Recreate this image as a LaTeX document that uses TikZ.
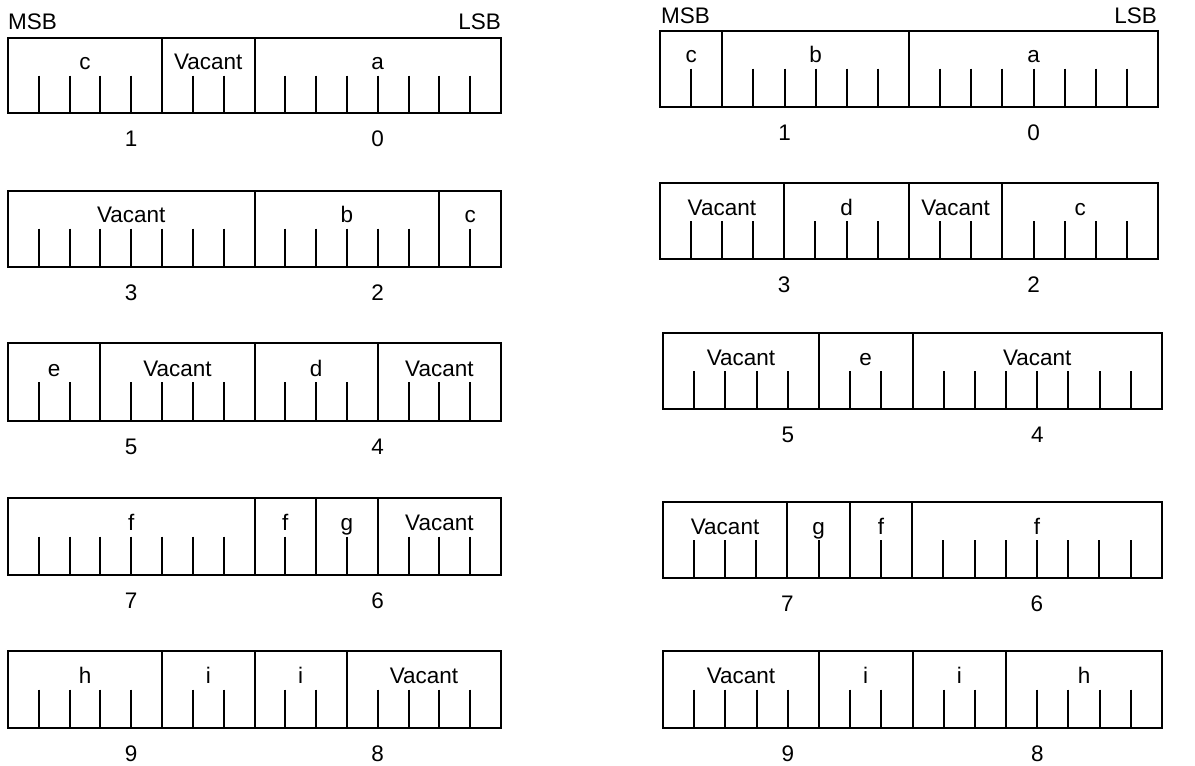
\documentclass[tikz,border=0pt]{standalone}
\usepackage{fontspec}
\setmainfont{Liberation Sans}
\newcount\bitposcnt
\tikzset{
  seg/.style={draw, line width=2pt, inner sep=0pt, outer sep=0pt, rectangle},
  tickline/.style={line width=2pt},
  fieldlab/.style={font=\fontsize{22.5}{22.5}\selectfont, inner sep=0pt, anchor=base},
  bytelab/.style={font=\fontsize{22.5}{22.5}\selectfont, inner sep=0pt, anchor=base},
  endlab/.style={font=\fontsize{22.5}{22.5}\selectfont, inner sep=0pt},
}
\newcommand\bitrow[8]{%
  \pgfmathsetmacro\bw{(#3-#2)/16}%
  \pgfmathsetmacro\ymid{(#4+#5)/2}%
  \pgfmathsetmacro\ytxt{\ymid-6}%
  \pgfmathsetmacro\hgt{#5-#4}%
  \global\bitposcnt=0
  \foreach \n/\lab [count=\k] in {#6}{%
    \pgfmathsetmacro\xa{#2+\the\bitposcnt*\bw}%
    \pgfmathsetmacro\sw{\n*\bw}%
    \pgfmathsetmacro\xc{\xa+\sw/2}%
    \node[seg, minimum width=\sw pt, minimum height=\hgt pt, anchor=north west] (#1-\k) at (\xa,#4) {};
    \node[fieldlab] (#1-\k-t) at (\xc,\ytxt) {\lab};
    \pgfmathtruncatemacro\m{\n-1}%
    \foreach \j in {1,...,\m}{\draw[tickline] (\xa+\j*\bw,\ymid) -- (\xa+\j*\bw,#5);}
    \global\advance\bitposcnt by \n\relax
  }
  \pgfmathsetmacro\xh{#2+4*\bw}%
  \pgfmathsetmacro\xl{#2+12*\bw}%
  \pgfmathsetmacro\yl{#5+33.5}%
  \node[bytelab] (#1-hi) at (\xh,\yl) {#7};
  \node[bytelab] (#1-lo) at (\xl,\yl) {#8};
}
\begin{document}
\begin{tikzpicture}[x=1pt,y=-1pt]
\useasboundingbox[fill=white] (0,0) rectangle (1195,766);
% left column
\node[endlab, anchor=base west] (msbL) at (8,29.3) {MSB};
\node[endlab, anchor=base east] (lsbL) at (501,29.3) {LSB};
\bitrow{L1}{8}{501}{37.7}{113.3}{5/c,3/Vacant,8/a}{1}{0}
\bitrow{L2}{8}{501}{190.7}{266.7}{8/Vacant,6/b,2/c}{3}{2}
\bitrow{L3}{8}{501}{343.3}{420.7}{3/e,5/Vacant,4/d,4/Vacant}{5}{4}
\bitrow{L4}{8}{501}{498.3}{575}{8/f,2/f,2/g,4/Vacant}{7}{6}
\bitrow{L5}{8}{501}{651}{728}{5/h,3/i,3/i,5/Vacant}{9}{8}
% right column
\node[endlab, anchor=base west] (msbR) at (661,23.3) {MSB};
\node[endlab, anchor=base east] (lsbR) at (1157,23.3) {LSB};
\bitrow{R1}{660}{1158}{30.7}{106.7}{2/c,6/b,8/a}{1}{0}
\bitrow{R2}{659.5}{1158.3}{183.3}{259.3}{4/Vacant,4/d,3/Vacant,5/c}{3}{2}
\bitrow{R3}{663}{1162}{333.3}{409.3}{5/Vacant,3/e,8/Vacant}{5}{4}
\bitrow{R4}{662.7}{1161.7}{502.3}{578.3}{4/Vacant,2/g,2/f,8/f}{7}{6}
\bitrow{R5}{663}{1162}{651}{728}{5/Vacant,3/i,3/i,5/h}{9}{8}
\end{tikzpicture}
\end{document}
